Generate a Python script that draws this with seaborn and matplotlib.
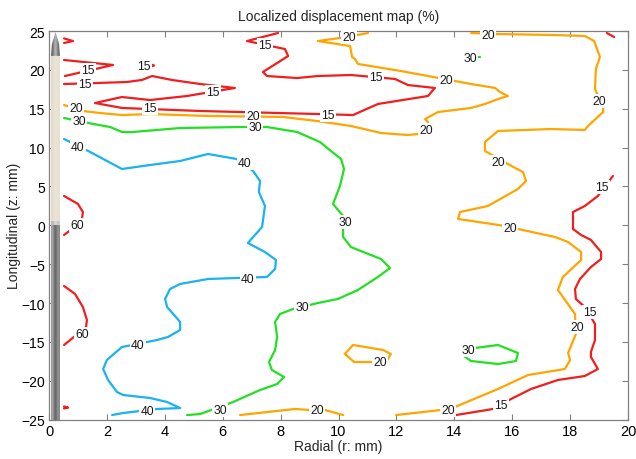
import numpy as np
import pandas as pd
import seaborn as sns
import matplotlib
matplotlib.use("Agg")
import matplotlib.pyplot as plt
from matplotlib.patches import Polygon

# ---------------- data: contour polylines (r in mm, z in mm) ----------------
levels = [15, 20, 30, 40, 60]
level_colors = {15: "#f01e1e", 20: "#ffa500", 30: "#22e022", 40: "#1ab2f0", 60: "#f01e1e"}

# red 15
c15_a_r = [0.52, 0.83, 0.52]
c15_a_z = [24.04, 23.71, 23.46]
c15_b_r = [0.52, 2.21, 0.55]
c15_b_z = [21.27, 20.63, 19.21]
c15_c_r = [3.45, 3.63, 3.45]
c15_c_z = [20.76, 20.56, 20.37]
c15_d_r = [7.91, 6.84, 8.15, 8.26, 7.39, 7.53, 8.57, 9.29, 10.43, 11.95, 12.40, 13.33,
           13.09, 11.36, 10.50, 9.29, 6.60, 5.22, 2.52, 1.59, 2.52, 3.49, 4.77, 6.42,
           5.22, 4.25, 3.56, 3.21, 2.69, 1.66, 0.52]
c15_d_z = [24.74, 23.71, 22.68, 21.78, 19.73, 19.21, 18.95, 19.21, 19.34, 18.83, 18.05, 17.67,
           16.64, 15.61, 14.19, 14.32, 14.58, 14.71, 15.10, 15.74, 16.51, 16.12, 16.64, 17.67,
           18.18, 18.70, 19.21, 18.70, 18.44, 18.31, 18.18]
c15_e_r = [14.06, 15.34, 15.96, 16.65, 17.58, 18.51, 18.96, 18.72, 18.72, 18.86, 18.86,
           18.51, 18.20, 18.17, 18.34, 18.72, 19.07, 19.07, 18.72, 18.38, 18.10, 18.10,
           18.51, 18.96, 19.48]
c15_e_z = [-24.40, -23.62, -22.34, -21.05, -19.89, -19.38, -18.48, -16.93, -16.29, -14.75, -12.69,
           -10.50, -9.47, -8.19, -6.90, -5.36, -4.33, -3.43, -1.88, -1.24, -0.47, 1.72,
           2.49, 3.78, 6.35]
c15_f_r = [19.27, 19.52]
c15_f_z = [24.74, 24.23]
c15_g_r = [0.52, 0.66, 0.52]
c15_g_z = [-23.30, -23.45, -23.55]

# orange 20
c20_a_r = [0.52, 1.17, 1.76, 2.52, 3.49, 5.46, 8.08, 9.26, 10.43, 11.47, 12.40, 12.75,
           13.02, 13.09, 12.99, 13.44, 14.58, 15.06, 15.51, 15.85, 15.58, 15.41, 14.58,
           13.09, 12.16, 10.67, 10.57, 10.47, 10.40, 9.29, 10.05, 11.02]
c20_a_z = [15.48, 14.71, 14.45, 14.19, 14.32, 14.07, 13.94, 13.42, 12.78, 11.88, 11.62, 11.75,
           12.27, 13.29, 13.68, 14.58, 15.10, 15.61, 16.25, 16.64, 17.15, 17.67, 18.18,
           19.21, 19.85, 20.76, 21.40, 21.66, 23.07, 23.71, 24.10, 24.74]
c20_b_r = [14.58, 15.51, 17.34, 18.51, 18.83, 19.03, 18.89, 18.86, 19.14, 19.14, 18.62,
           18.51, 17.34, 15.51, 15.06, 15.06, 15.85, 16.37, 16.48, 16.20, 15.16, 14.20,
           14.13, 15.75, 16.20, 17.48, 17.93, 18.38, 18.38, 17.75, 17.58, 18.17, 18.20,
           17.93, 18.00, 17.82, 16.55, 15.51, 14.02, 13.54, 11.99]
c20_b_z = [24.74, 24.61, 24.49, 24.36, 23.71, 21.66, 20.11, 17.54, 15.22, 14.58, 12.78,
           12.27, 12.39, 12.14, 10.72, 9.56, 7.89, 6.86, 5.71, 4.68, 2.49, 1.72,
           0.82, -0.08, -0.47, -1.50, -2.14, -3.43, -4.46, -6.64, -8.32, -11.40, -13.98,
           -16.42, -17.32, -18.48, -19.25, -21.05, -23.37, -23.75, -24.40]
c20_c_r = [6.60, 8.50, 9.02, 9.53, 10.16]
c20_c_z = [-24.40, -23.62, -23.75, -23.75, -24.40]
c20_d_r = [10.22, 10.50, 11.54, 11.81, 11.64, 10.54, 10.22]
c20_d_z = [-16.55, -15.39, -16.03, -16.55, -17.58, -17.58, -16.55]

# green 30
c30_a_r = [0.52, 1.52, 2.11, 2.52, 2.90, 4.53, 6.60, 7.53, 8.57, 9.36, 9.74, 10.09, 10.19,
           10.05, 9.81, 10.16, 10.16, 10.16, 10.43, 11.47, 11.78, 11.36, 10.67, 9.98, 9.29,
           8.43, 7.98, 7.81, 7.88, 7.81, 7.60, 7.70, 8.12, 7.88, 7.29, 6.36, 5.22, 4.77]
c30_a_z = [13.81, 13.04, 12.65, 12.01, 12.01, 12.52, 12.65, 12.65, 12.01, 10.72, 9.56, 8.53, 7.25,
           5.06, 2.75, 1.20, -0.47, -1.50, -2.79, -4.33, -5.49, -6.64, -8.32, -9.47, -9.99,
           -10.76, -11.40, -12.43, -14.36, -16.03, -17.58, -18.61, -19.51, -20.41, -21.18, -22.72, -24.27, -24.40]
c30_b_r = [14.35, 14.90]
c30_b_z = [21.70, 21.70]
c30_c_r = [14.23, 14.72, 15.51, 16.20, 16.13, 15.51, 14.58, 14.23]
c30_c_z = [-16.55, -15.77, -15.39, -16.42, -17.45, -17.84, -17.45, -16.55]

# blue 40
c40_a_r = [0.52, 1.42, 2.52, 3.49, 4.53, 5.49, 6.49, 7.05, 7.29, 7.25, 7.46, 7.36, 6.87,
           7.46, 7.84, 7.81, 7.53, 5.49, 4.53, 4.18, 4.01, 4.08, 4.53, 4.53, 4.11, 3.73,
           2.52, 2.00, 1.87, 2.04, 2.35, 2.56, 3.49, 4.08, 4.53, 3.73, 2.56, 2.18]
c40_a_z = [11.11, 9.44, 7.25, 7.76, 8.28, 9.18, 8.53, 6.99, 5.71, 4.29, 2.49, -0.21, -2.27,
           -3.43, -4.46, -5.61, -6.64, -6.90, -7.54, -8.19, -9.47, -10.50, -12.43, -13.46, -14.36, -14.75,
           -15.65, -17.32, -18.48, -19.89, -21.44, -21.82, -22.21, -22.72, -23.50, -23.62, -24.14, -24.40]

# red 60
c60_a_r = [0.52, 1.00, 1.17, 1.14, 0.79, 0.52]
c60_a_z = [3.78, 2.75, 1.72, 0.82, -0.47, -1.24]
c60_b_r = [0.52, 0.90, 1.17, 1.31, 1.28, 0.52]
c60_b_z = [-7.80, -8.83, -10.50, -12.17, -13.08, -15.39]

paths = [
    (15, c15_a_r, c15_a_z), (15, c15_b_r, c15_b_z), (15, c15_c_r, c15_c_z),
    (15, c15_d_r, c15_d_z), (15, c15_e_r, c15_e_z), (15, c15_f_r, c15_f_z),
    (15, c15_g_r, c15_g_z),
    (20, c20_a_r, c20_a_z), (20, c20_b_r, c20_b_z), (20, c20_c_r, c20_c_z),
    (20, c20_d_r, c20_d_z),
    (30, c30_a_r, c30_a_z), (30, c30_b_r, c30_b_z), (30, c30_c_r, c30_c_z),
    (40, c40_a_r, c40_a_z),
    (60, c60_a_r, c60_a_z), (60, c60_b_r, c60_b_z),
]

# contour labels
label_r = [1.35, 3.28, 7.46, 11.30, 9.64, 3.49, 5.66, 1.24, 15.61, 18.69, 19.10,
           0.93, 7.05, 13.02, 13.71, 10.36, 15.16, 19.00, 15.51, 15.92, 18.24, 13.78, 9.26, 11.43,
           1.04, 7.12, 10.22, 8.74, 5.91, 14.55, 14.47,
           1.00, 6.77, 6.87, 3.07, 3.39,
           0.97, 1.14]
label_z = [19.95, 20.50, 23.20, 19.08, 14.19, 15.10, 17.15, 18.20, -23.11, -11.15, 4.93,
           15.10, 14.07, 12.27, 18.70, 24.23, 24.49, 16.00, 8.15, -0.34, -13.08, -23.75, -23.75, -17.58,
           13.42, 12.65, 0.43, -10.50, -23.75, 21.55, -16.03,
           10.08, 8.02, -6.90, -15.39, -23.88,
           0.04, -13.98]
label_txt = ["15"] * 11 + ["20"] * 13 + ["30"] * 7 + ["40"] * 5 + ["60"] * 2

title = "Localized displacement map (%)"
xlabel = "Radial (r: mm)"
ylabel = "Longitudinal (z: mm)"
xticks = list(range(0, 21, 2))
yticks = list(range(-25, 26, 5))

# ---------------- figure ----------------
sns.set_style("white")
plt.rcParams["font.family"] = ["Liberation Sans", "DejaVu Sans"]
fig = plt.figure(figsize=(6.36, 4.60), dpi=100)
ax = fig.add_axes([49 / 636, 1 - 420.7 / 460, (628 - 49) / 636, (420.7 - 32) / 460])

for lev, rr, zz in paths:
    df = pd.DataFrame({"r": rr, "z": zz})
    sns.lineplot(data=df, x="r", y="z", sort=False, estimator=None,
                 color=level_colors[lev], lw=1.6, ax=ax, zorder=3)

for r, z, t in zip(label_r, label_z, label_txt):
    ax.text(r, z, t, fontsize=8.7, ha="center", va="center", color="#1a1a1a", zorder=5,
            bbox=dict(boxstyle="square,pad=0.12", fc="white", ec="none"))

# probe / needle drawing at left
nx0, nx1 = 0.07, 0.38
grad = np.array([[0.62, 0.66, 0.45, 0.40, 0.48, 0.60, 0.52]])
ax.imshow(grad, cmap="gray", vmin=0, vmax=1, aspect="auto",
          extent=[nx0, nx1, -25, 0.5], zorder=2, interpolation="bicubic")
ax.imshow(np.array([[0.72, 0.84, 0.78]]), cmap="gray", vmin=0, vmax=1, aspect="auto",
          extent=[nx0, nx1, 0.0, 0.5], zorder=2.1)
beige = np.array([[[0.89, 0.86, 0.80], [0.93, 0.90, 0.84], [0.91, 0.88, 0.82]]])
ax.imshow(beige, aspect="auto", extent=[nx0, nx1, 0.5, 21.8], zorder=2,
          interpolation="bicubic")
tip_img = ax.imshow(np.array([[0.35, 0.55, 0.75, 0.55, 0.4]]), cmap="gray", vmin=0, vmax=1,
                    aspect="auto", extent=[nx0, nx1, 21.8, 24.9], zorder=2,
                    interpolation="bicubic")
tip = Polygon([[nx0, 21.8], [nx0 + 0.03, 23.3], [(nx0 + nx1) / 2, 24.9],
               [nx1 - 0.03, 23.3], [nx1, 21.8]], closed=True, transform=ax.transData,
              fc="none", ec="none")
ax.add_patch(tip)
tip_img.set_clip_path(tip)

ax.set_xlim(0, 20)
ax.set_ylim(-25, 25)
ax.set_xticks(xticks)
ax.set_yticks(yticks)
ax.set_title(title, fontsize=10, pad=8)
ax.set_xlabel(xlabel, fontsize=10, labelpad=1)
ax.set_ylabel(ylabel, fontsize=10, labelpad=0)
ax.tick_params(direction="in", length=4, width=0.8, colors="#808080",
               labelcolor="black", labelsize=10, top=True, right=True,
               bottom=True, left=True, pad=3)
ax.tick_params(axis="x", labelsize=10.5)
for sp in ax.spines.values():
    sp.set_color("#808080")
    sp.set_linewidth(0.9)

fig.savefig("out.png", dpi=100)
